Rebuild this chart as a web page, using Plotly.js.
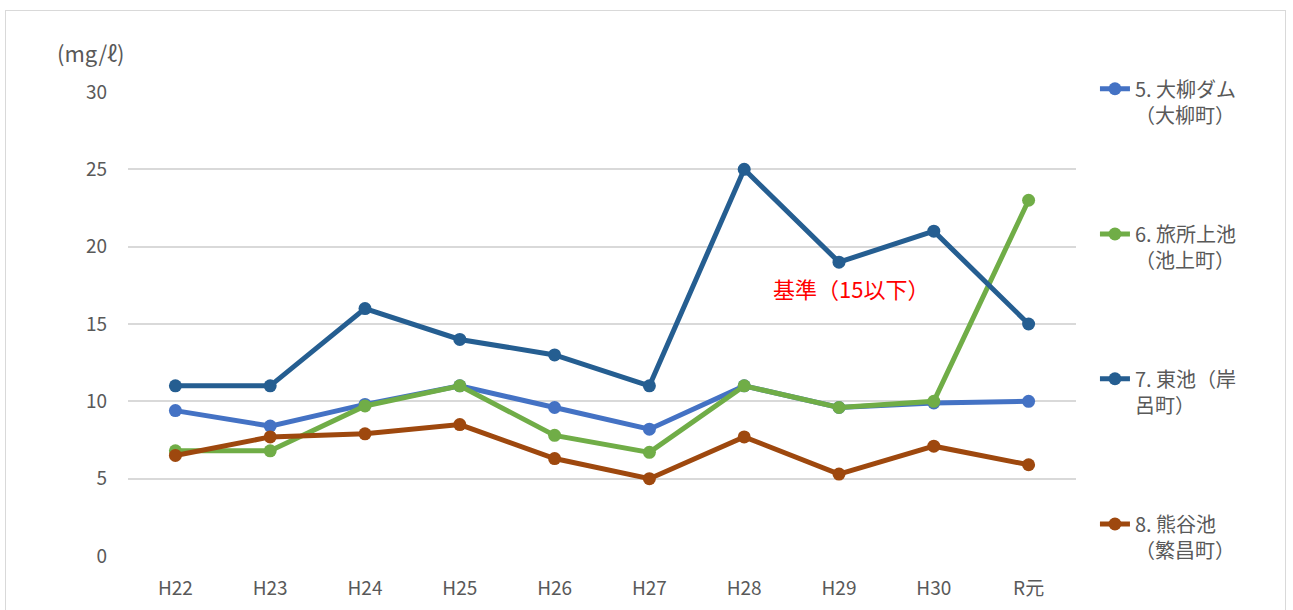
<!DOCTYPE html>
<html>
<head>
<meta charset="utf-8">
<script src="https://cdn.plot.ly/plotly-3.0.1.min.js"></script>
<style>
html,body{margin:0;padding:0;background:#fff;overflow:hidden;}
#chart{width:1293px;height:610px;position:absolute;left:0;top:0;}
#frame{position:absolute;left:5px;top:10px;width:1279px;height:640px;border:1px solid #d9d9d9;pointer-events:none;}
</style>
</head>
<body>
<div id="chart"></div>
<div id="frame"></div>
<script>
const years = ["H22","H23","H24","H25","H26","H27","H28","H29","H30","R元"];
const names = ["5. 大柳ダム<br>（大柳町）","6. 旅所上池<br>（池上町）","7. 東池（岸<br>呂町）","8. 熊谷池<br>（繁昌町）"];
const oyanagi = [9.4, 8.4, 9.8, 11, 9.6, 8.2, 11, 9.6, 9.9, 10];
const tabisho = [6.8, 6.8, 9.7, 11, 7.8, 6.7, 11, 9.6, 10, 23];
const higashi = [11, 11, 16, 14, 13, 11, 25, 19, 21, 15];
const kumagai = [6.5, 7.7, 7.9, 8.5, 6.3, 5.0, 7.7, 5.3, 7.1, 5.9];
const colors = ["#4472C4","#70AD47","#255E91","#9E480E"];
const standard = 15;
const standardLabel = "基準（15以下）";
const unitLabel = "(mg/ℓ)";

const font = "'Noto Sans CJK JP', 'Noto Sans', sans-serif";
const legendIds = ["legend","legend2","legend3","legend4"];
const legendY = [1.049, 0.736, 0.424, 0.111];

const series = [oyanagi, tabisho, higashi, kumagai];
const traces = series.map((vals, i) => ({
  type: "scatter",
  mode: "lines+markers",
  x: years,
  y: vals,
  name: names[i],
  legend: legendIds[i],
  line: {color: colors[i], width: 5},
  marker: {color: colors[i], size: 13}
}));

const layout = {
  width: 1293, height: 610,
  margin: {l: 128, r: 217, t: 92, b: 54},
  paper_bgcolor: "#fff", plot_bgcolor: "#fff",
  font: {family: font, color: "#595959", size: 18},
  showlegend: true,
  xaxis: {
    type: "category",
    range: [-0.5, 9.5],
    showgrid: false, zeroline: false, showline: false,
    ticks: "", ticklabelstandoff: 19,
    tickfont: {family: font, size: 19, color: "#595959"}
  },
  yaxis: {
    range: [0, 30], dtick: 5,
    showgrid: true, gridcolor: "#d9d9d9", gridwidth: 2,
    zeroline: false, showline: false,
    ticks: "", ticklabelstandoff: 20,
    tickfont: {family: font, size: 19, color: "#595959"}
  },
  shapes: [{
    type: "line", xref: "paper", yref: "y",
    x0: 0, x1: 0.985, y0: standard, y1: standard,
    line: {color: "#ff0000", width: 1, dash: "dot"},
    layer: "below"
  }],
  annotations: [
    {xref: "x", yref: "y", x: 7.13, y: 17.3, text: standardLabel, showarrow: false,
     font: {family: font, size: 22, color: "#ff0000"}},
    {xref: "paper", yref: "paper", x: -0.039, xanchor: "center", y: 1.125, text: unitLabel, showarrow: false,
     font: {family: font, size: 22, color: "#595959"}}
  ]
};
legendIds.forEach((id, i) => {
  layout[id] = {
    x: 1.02, xanchor: "left", y: legendY[i], yanchor: "top",
    valign: "top",
    font: {family: font, size: 20, color: "#595959"},
    bgcolor: "rgba(0,0,0,0)"
  };
});

Plotly.newPlot("chart", traces, layout, {displayModeBar: false, staticPlot: true});
</script>
</body>
</html>
